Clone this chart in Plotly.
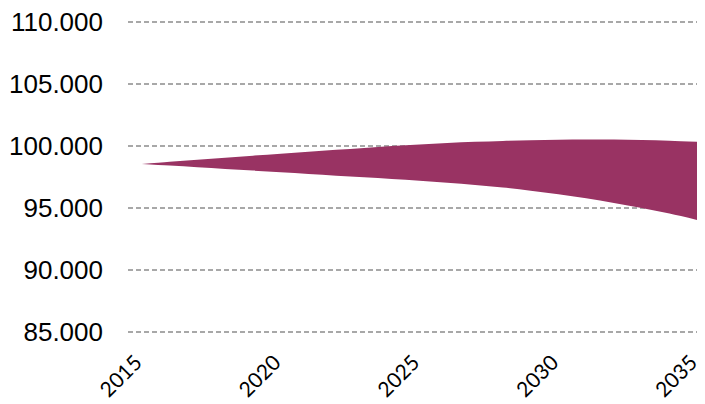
import plotly.graph_objects as go

years = list(range(2015, 2036))
upper = [98550, 98725, 98895, 99060, 99220, 99380, 99535, 99690, 99840, 99990, 100130,
         100245, 100340, 100410, 100465, 100505, 100520, 100520, 100490, 100430, 100350]
lower = [98550, 98420, 98285, 98150, 98015, 97880, 97745, 97610, 97475, 97340, 97200,
         97040, 96860, 96650, 96400, 96110, 95780, 95410, 95000, 94550, 94030]
x_ticks = [2015, 2020, 2025, 2030, 2035]
y_ticks = [85000, 90000, 95000, 100000, 105000, 110000]

color = "#993363"

fig = go.Figure()
fig.add_trace(go.Scatter(x=years, y=lower, mode="lines", line=dict(width=0, color=color, shape="spline"),
                         showlegend=False, hoverinfo="skip"))
fig.add_trace(go.Scatter(x=years, y=upper, mode="lines", line=dict(width=0, color=color, shape="spline"),
                         fill="tonexty", fillcolor=color, showlegend=False))

fig.update_layout(
    width=697, height=396,
    margin=dict(l=120, r=5, t=9, b=67),
    paper_bgcolor="white", plot_bgcolor="white",
    separators=",.",
    xaxis=dict(range=[2014.5, 2035.1], tickvals=x_ticks, ticktext=[str(v) for v in x_ticks],
               tickangle=-45, showgrid=False, zeroline=False, showline=False, automargin=False,
               ticklabeloverflow="allow", ticklabelstandoff=8, ticklabelshift=-6,
               tickfont=dict(family="Lato, Liberation Sans, sans-serif", size=21, color="black")),
    yaxis=dict(range=[84600, 110400], tickvals=y_ticks, tickformat=",.0f", automargin=False,
               showgrid=True, gridcolor="#a8a8a8", griddash="5px,3px", gridwidth=1.5,
               zeroline=False, showline=False, ticklabelstandoff=24, ticklabeloverflow="allow",
               tickfont=dict(family="Liberation Sans, Arial, sans-serif", size=26, color="black")),
)

fig.write_html("out.html")
